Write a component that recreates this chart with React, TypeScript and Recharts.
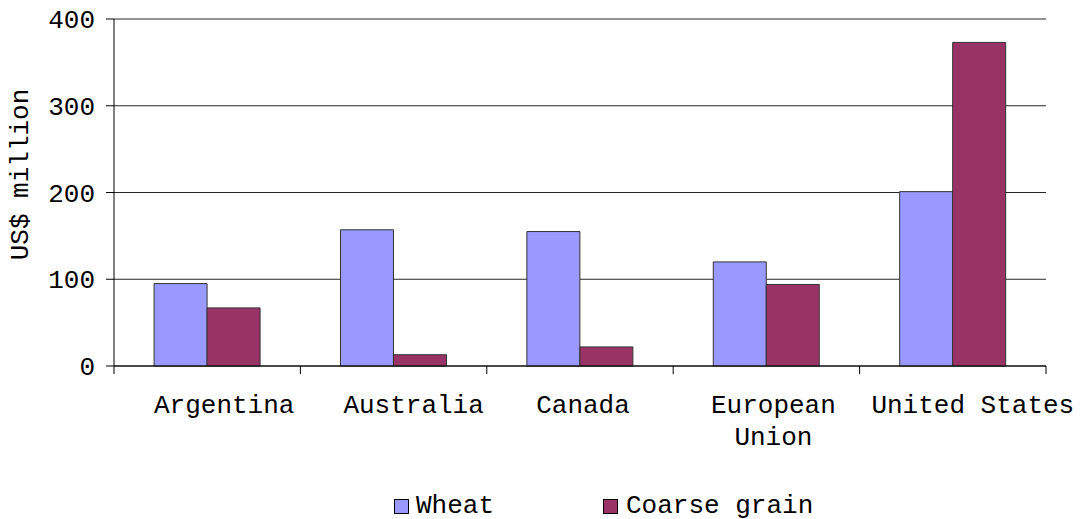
import { BarChart, Bar, XAxis, YAxis, CartesianGrid, Legend } from 'recharts';

const categories = ['Argentina', 'Australia', 'Canada', 'European Union', 'United States'];
const wheat = [95, 157, 155, 120, 201];
const coarseGrain = [67, 13, 22, 94, 373];
const tickLabels = [['Argentina'], ['Australia'], ['Canada'], ['European', 'Union'], ['United States']];
const yTicks = [0, 100, 200, 300, 400];

const data = categories.map((name, i) => ({ name, wheat: wheat[i], coarse: coarseGrain[i] }));

const FONT = '"Liberation Mono", "Courier New", monospace';
const WHEAT = '#9999ff';
const COARSE = '#993366';

// labels in the original sit a little right of band centre, not evenly
const labelShift = [17, 20, 3, 7, 20];

function CategoryTick(props: any) {
  const { x, y, payload, index } = props;
  const half = payload.offset ?? 0;
  const lines = tickLabels[index] ?? [String(payload.value)];
  return (
    <g>
      <line x1={x - half} x2={x - half} y1={y} y2={y + 8} stroke="#000" />
      {index === categories.length - 1 && (
        <line x1={x + half} x2={x + half} y1={y} y2={y + 8} stroke="#000" />
      )}
      {lines.map((l, k) => (
        <text key={k} x={x + labelShift[index]} y={y + 47 + k * 32} textAnchor="middle"
          fontFamily={FONT} fontSize={26} fill="#000">{l}</text>
      ))}
    </g>
  );
}

function LegendBox() {
  return (
    <svg width={500} height={40} style={{ overflow: 'visible' }}>
      <rect x={0.5} y={20.5} width={14} height={14} fill={WHEAT} stroke="#000" />
      <text x={22} y={34} fontFamily={FONT} fontSize={26} fill="#000">Wheat</text>
      <rect x={209.5} y={20.5} width={14} height={14} fill={COARSE} stroke="#000" />
      <text x={232} y={34} fontFamily={FONT} fontSize={26} fill="#000">Coarse grain</text>
    </svg>
  );
}

export default function App() {
  return (
    <div style={{ width: 1081, height: 519, position: 'relative' }}>
      <style>{'body{margin:0}'}</style>
      <BarChart width={1081} height={519} data={data}
        margin={{ top: 19, right: 35, left: 54, bottom: 0 }}
        barCategoryGap="21.5%" barGap={0}>
        <CartesianGrid vertical={false} stroke="#000" strokeOpacity={0.85} />
        <XAxis dataKey="name" height={113} axisLine={{ stroke: '#000' }} tickLine={false}
          tickSize={0} tickMargin={0} interval={0} tick={<CategoryTick />} />
        <YAxis width={60} domain={[0, 400]} ticks={yTicks} axisLine={{ stroke: '#000' }}
          tickLine={{ stroke: '#000' }} tickSize={8} tickMargin={11}
          tick={{ fontFamily: FONT, fontSize: 26, fill: '#000' }}
          label={{
            content: (p: any) => {
              const vb = p.viewBox;
              return (
                <text transform={`translate(28, ${vb.y + vb.height / 2 - 18}) rotate(-90)`}
                  textAnchor="middle" fontFamily={FONT} fontSize={26} fill="#000">US$ million</text>
              );
            },
          }} />
        <Legend verticalAlign="bottom" content={<LegendBox />}
          wrapperStyle={{ left: 394, width: 500, height: 40, bottom: 0 }} />
        <Bar dataKey="wheat" name="Wheat" fill={WHEAT} stroke="#333" isAnimationActive={false} />
        <Bar dataKey="coarse" name="Coarse grain" fill={COARSE} stroke="#333" isAnimationActive={false} />
      </BarChart>
    </div>
  );
}
